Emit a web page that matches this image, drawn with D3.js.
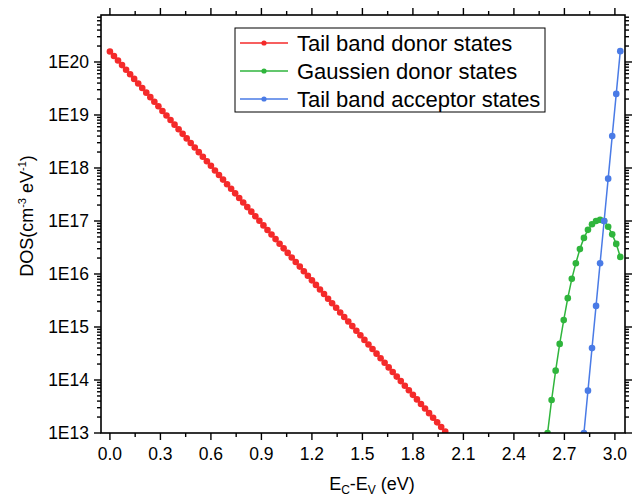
<!DOCTYPE html>
<html>
<head>
<meta charset="utf-8">
<script src="https://cdn.jsdelivr.net/npm/d3@7"></script>
<style>
  body { margin: 0; background: #fff; }
  svg { display: block; font-family: "Liberation Sans", Arial, sans-serif; }
  .axis-line { stroke: #000; stroke-width: 1.6; fill: none; }
  .tick-line { stroke: #000; stroke-width: 1.4; }
  .tick-label { font-size: 17.5px; fill: #000; }
  .title { font-size: 18px; fill: #000; }
  .legend-box { fill: #fff; stroke: #000; stroke-width: 1; }
  .legend-text { font-size: 22px; fill: #000; }
</style>
</head>
<body>
<div id="graphic"></div>
<script>
(function(d3){

    // Canvas size
    let width = 638, height = 499;

    // Plot frame
    let left = 101, right = 625, top = 15, bottom = 433;

    // Tail band donor states (energy in eV, DOS in cm^-3 eV^-1)
    let donorTailE = [
        0.000, 0.024, 0.048, 0.072, 0.096, 0.120, 0.144, 0.168, 0.192, 0.216,
        0.240, 0.264, 0.288, 0.312, 0.336, 0.360, 0.384, 0.408, 0.432, 0.456,
        0.480, 0.504, 0.528, 0.552, 0.576, 0.600, 0.624, 0.648, 0.672, 0.696,
        0.720, 0.744, 0.768, 0.792, 0.816, 0.840, 0.864, 0.888, 0.912, 0.936,
        0.960, 0.984, 1.008, 1.032, 1.056, 1.080, 1.104, 1.128, 1.152, 1.176,
        1.200, 1.224, 1.248, 1.272, 1.296, 1.320, 1.344, 1.368, 1.392, 1.416,
        1.440, 1.464, 1.488, 1.512, 1.536, 1.560, 1.584, 1.608, 1.632, 1.656,
        1.680, 1.704, 1.728, 1.752, 1.776, 1.800, 1.824, 1.848, 1.872, 1.896,
        1.920, 1.944, 1.968, 1.992
    ];
    let donorTailDos = [
        1.58e20, 1.30e20, 1.07e20, 8.73e19, 7.15e19, 5.86e19, 4.80e19, 3.94e19, 3.23e19, 2.64e19,
        2.17e19, 1.78e19, 1.46e19, 1.19e19, 9.78e18, 8.02e18, 6.57e18, 5.39e18, 4.41e18, 3.62e18,
        2.97e18, 2.43e18, 1.99e18, 1.63e18, 1.34e18, 1.10e18, 8.99e17, 7.37e17, 6.04e17, 4.95e17,
        4.06e17, 3.32e17, 2.72e17, 2.23e17, 1.83e17, 1.50e17, 1.23e17, 1.01e17, 8.26e16, 6.77e16,
        5.55e16, 4.55e16, 3.73e16, 3.05e16, 2.50e16, 2.05e16, 1.68e16, 1.38e16, 1.13e16, 9.26e15,
        7.59e15, 6.22e15, 5.10e15, 4.18e15, 3.42e15, 2.81e15, 2.30e15, 1.88e15, 1.54e15, 1.27e15,
        1.04e15, 8.50e14, 6.97e14, 5.71e14, 4.68e14, 3.84e14, 3.14e14, 2.58e14, 2.11e14, 1.73e14,
        1.42e14, 1.16e14, 9.53e13, 7.81e13, 6.40e13, 5.25e13, 4.30e13, 3.53e13, 2.89e13, 2.37e13,
        1.94e13, 1.59e13, 1.30e13, 1.07e13
    ];

    // Gaussian donor states
    let gaussE = [
        2.600, 2.624, 2.648, 2.672, 2.696, 2.720, 2.744, 2.768, 2.792, 2.816,
        2.840, 2.864, 2.888, 2.912, 2.936, 2.960, 2.984, 3.008, 3.032
    ];
    let gaussDos = [
        1.0e13, 4.2e13, 1.5e14, 4.8e14, 1.35e15, 3.5e15, 8.1e15, 1.6e16, 2.95e16, 4.8e16,
        6.8e16, 8.7e16, 1.0e17, 1.05e17, 1.0e17, 7.8e16, 5.6e16, 3.7e16, 2.1e16
    ];

    // Tail band acceptor states
    let acceptorTailE = [2.816, 2.840, 2.864, 2.888, 2.912, 2.936, 2.960, 2.984, 3.008, 3.032];
    let acceptorTailDos = [1.0e13, 6.3e13, 4.0e14, 2.5e15, 1.6e16, 1.0e17, 6.3e17, 4.0e18, 2.5e19, 1.6e20];

    // Axis ticks
    let xTicks = [0.0, 0.3, 0.6, 0.9, 1.2, 1.5, 1.8, 2.1, 2.4, 2.7, 3.0];
    let xTickLabels = ['0.0', '0.3', '0.6', '0.9', '1.2', '1.5', '1.8', '2.1', '2.4', '2.7', '3.0'];
    let yTicks = [1e13, 1e14, 1e15, 1e16, 1e17, 1e18, 1e19, 1e20];
    let yTickLabels = ['1E13', '1E14', '1E15', '1E16', '1E17', '1E18', '1E19', '1E20'];

    let seriesNames = ['Tail band donor states', 'Gaussien donor states', 'Tail band acceptor states'];
    let seriesColors = ['#f42a2a', '#2fb53c', '#4a7be6'];

    let series = [
        { name: seriesNames[0], color: seriesColors[0], e: donorTailE, dos: donorTailDos },
        { name: seriesNames[1], color: seriesColors[1], e: gaussE, dos: gaussDos },
        { name: seriesNames[2], color: seriesColors[2], e: acceptorTailE, dos: acceptorTailDos }
    ];

    let svg = d3.select('#graphic')
                .append('svg')
                .attr('width', width)
                .attr('height', height);

    let x = d3.scaleLinear().domain([-0.053, 3.060]).range([left, right]);
    let y = d3.scaleLog().domain([1e13, 7.7e20]).range([bottom, top]);

    // Minor ticks: halfway between x majors, 2..9 in each decade
    let xMinor = xTicks.slice(0, -1).map(v => v + 0.15);
    let yMinor = [];
    yTicks.concat([1e21]).forEach(p => {
        for(let m = 2; m <= 9; m++) {
            let v = p / 10 * m;
            if(v > y.domain()[0] && v < y.domain()[1]) yMinor.push(v);
        }
    });

    let major = 7, minor = 4;

    let ticks = svg.append('g');

    // Bottom and top ticks (pointing outward)
    xTicks.forEach(v => {
        ticks.append('line').attr('class', 'tick-line')
            .attr('x1', x(v)).attr('x2', x(v)).attr('y1', bottom).attr('y2', bottom + major);
        ticks.append('line').attr('class', 'tick-line')
            .attr('x1', x(v)).attr('x2', x(v)).attr('y1', top).attr('y2', top - major);
    });
    xMinor.forEach(v => {
        ticks.append('line').attr('class', 'tick-line')
            .attr('x1', x(v)).attr('x2', x(v)).attr('y1', bottom).attr('y2', bottom + minor);
        ticks.append('line').attr('class', 'tick-line')
            .attr('x1', x(v)).attr('x2', x(v)).attr('y1', top).attr('y2', top - minor);
    });

    // Left and right ticks
    yTicks.forEach(v => {
        ticks.append('line').attr('class', 'tick-line')
            .attr('x1', left).attr('x2', left - major).attr('y1', y(v)).attr('y2', y(v));
        ticks.append('line').attr('class', 'tick-line')
            .attr('x1', right).attr('x2', right + major).attr('y1', y(v)).attr('y2', y(v));
    });
    yMinor.forEach(v => {
        ticks.append('line').attr('class', 'tick-line')
            .attr('x1', left).attr('x2', left - minor).attr('y1', y(v)).attr('y2', y(v));
        ticks.append('line').attr('class', 'tick-line')
            .attr('x1', right).attr('x2', right + minor).attr('y1', y(v)).attr('y2', y(v));
    });

    // Tick labels
    xTicks.forEach((v, i) => {
        svg.append('text').attr('class', 'tick-label')
            .attr('x', x(v)).attr('y', 460)
            .attr('text-anchor', 'middle')
            .text(xTickLabels[i]);
    });
    yTicks.forEach((v, i) => {
        svg.append('text').attr('class', 'tick-label')
            .attr('x', 89).attr('y', y(v) + 6)
            .attr('text-anchor', 'end')
            .text(yTickLabels[i]);
    });

    // Clip to the plot area
    svg.append('clipPath').attr('id', 'plot-clip')
        .append('rect')
        .attr('x', left).attr('y', top)
        .attr('width', right - left).attr('height', bottom - top);

    let plot = svg.append('g').attr('clip-path', 'url(#plot-clip)');

    let line = d3.line()
        .x(d => x(d[0]))
        .y(d => y(d[1]));

    series.forEach(s => {
        let pts = s.e.map((e, i) => [e, s.dos[i]]);
        plot.append('path')
            .attr('d', line(pts))
            .attr('fill', 'none')
            .attr('stroke', s.color)
            .attr('stroke-width', 1.5);
        plot.selectAll(null)
            .data(pts)
            .enter()
            .append('circle')
            .attr('cx', d => x(d[0]))
            .attr('cy', d => y(d[1]))
            .attr('r', 3.3)
            .attr('fill', s.color);
    });

    // Frame
    svg.append('rect').attr('class', 'axis-line')
        .attr('x', left).attr('y', top)
        .attr('width', right - left).attr('height', bottom - top);

    // Axis titles
    let xTitle = svg.append('text').attr('class', 'title')
        .attr('x', 372).attr('y', 490)
        .attr('text-anchor', 'middle');
    xTitle.append('tspan').text('E');
    xTitle.append('tspan').attr('dy', 4).attr('font-size', '12px').text('C');
    xTitle.append('tspan').attr('dy', -4).text('-E');
    xTitle.append('tspan').attr('dy', 4).attr('font-size', '12px').text('V');
    xTitle.append('tspan').attr('dy', -4).text(' (eV)');

    let yTitle = svg.append('text').attr('class', 'title')
        .attr('transform', 'translate(33, 216) rotate(-90)')
        .attr('text-anchor', 'middle');
    yTitle.append('tspan').text('DOS(cm');
    yTitle.append('tspan').attr('dy', -7).attr('font-size', '11px').text('-3');
    yTitle.append('tspan').attr('dy', 7).text(' eV');
    yTitle.append('tspan').attr('dy', -7).attr('font-size', '11px').text('-1');
    yTitle.append('tspan').attr('dy', 7).text(')');

    // Legend
    let legend = svg.append('g');
    legend.append('rect').attr('class', 'legend-box')
        .attr('x', 235).attr('y', 28)
        .attr('width', 310).attr('height', 84);

    series.forEach((s, i) => {
        let cy = 43 + i * 28;
        legend.append('line')
            .attr('x1', 240).attr('x2', 288)
            .attr('y1', cy).attr('y2', cy)
            .attr('stroke', s.color).attr('stroke-width', 1.5);
        legend.append('circle')
            .attr('cx', 264).attr('cy', cy).attr('r', 2.6)
            .attr('fill', s.color);
        legend.append('text').attr('class', 'legend-text')
            .attr('x', 297).attr('y', cy + 7.5)
            .text(s.name);
    });

})(window.d3);
</script>
</body>
</html>
